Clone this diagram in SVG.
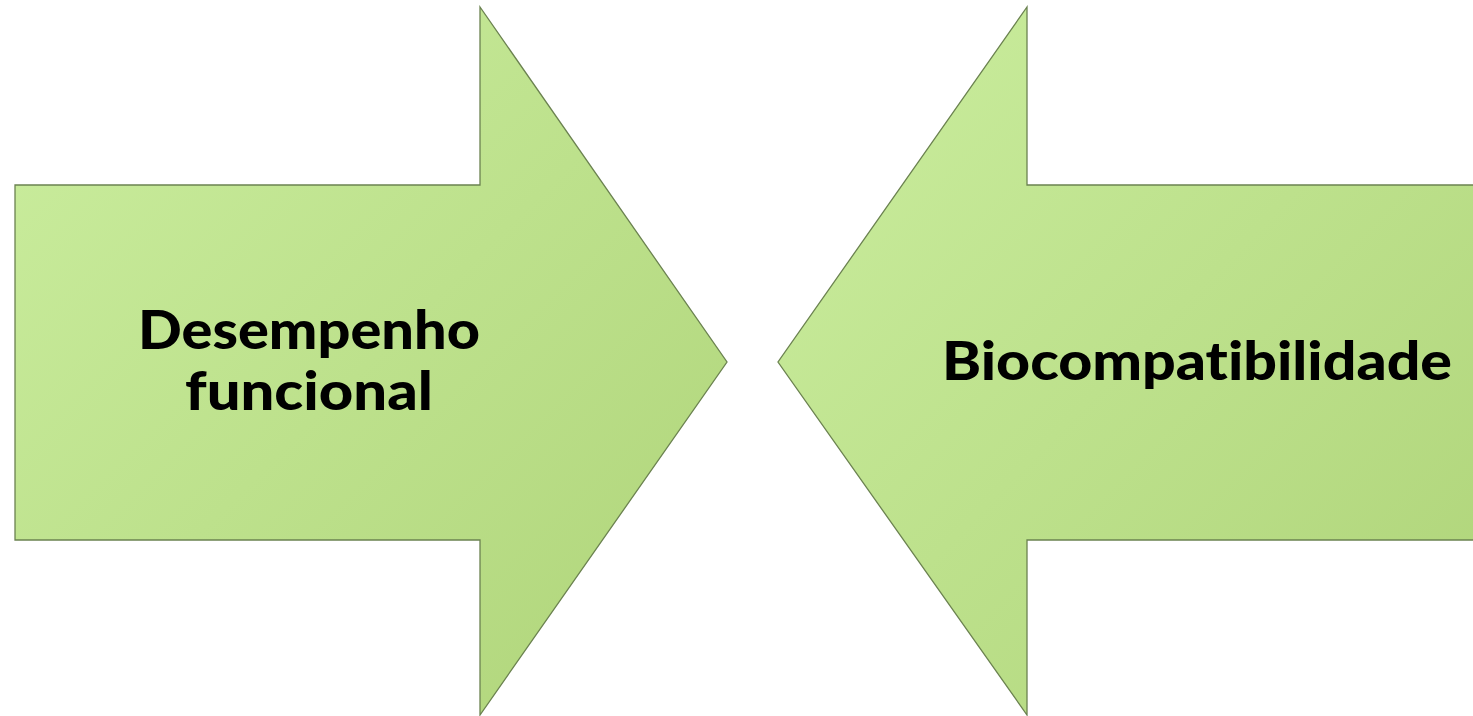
<svg xmlns="http://www.w3.org/2000/svg" width="1473" height="716" viewBox="0 0 1473 716">
<defs>
<linearGradient id="gL" x1="0" y1="0" x2="1" y2="1" gradientUnits="objectBoundingBox">
<stop offset="0" stop-color="#cbee9f"/>
<stop offset="1" stop-color="#afd479"/>
</linearGradient>
<linearGradient id="gR" x1="0" y1="0" x2="1" y2="1" gradientUnits="objectBoundingBox">
<stop offset="0" stop-color="#cbee9f"/>
<stop offset="1" stop-color="#afd479"/>
</linearGradient>
<style>
.arrow{stroke:#6b8250;stroke-width:1.3;stroke-linejoin:miter}
.lbl{font-family:"Lato","DejaVu Sans",sans-serif;font-weight:900;font-size:54px;fill:#000;text-anchor:middle;font-variant-ligatures:none}
</style>
</defs>
<rect width="1473" height="716" fill="#ffffff"/>
<g id="node-desempenho">
<polygon class="arrow" fill="url(#gL)" points="15,185 480,185 480,7 727,362 480,715 480,540 15,540"/>
<text class="lbl" x="309" y="349" textLength="342" lengthAdjust="spacingAndGlyphs">Desempenho</text>
<text class="lbl" x="309" y="410" textLength="248" lengthAdjust="spacingAndGlyphs">funcional</text>
</g>
<g id="node-biocompatibilidade">
<polygon class="arrow" fill="url(#gR)" points="1474,185 1027,185 1027,7 778,362 1027,715 1027,540 1474,540"/>
<text class="lbl" x="1197" y="380" textLength="510" lengthAdjust="spacingAndGlyphs">Biocompatibilidade</text>
</g>
<g id="connectors"></g>
</svg>
